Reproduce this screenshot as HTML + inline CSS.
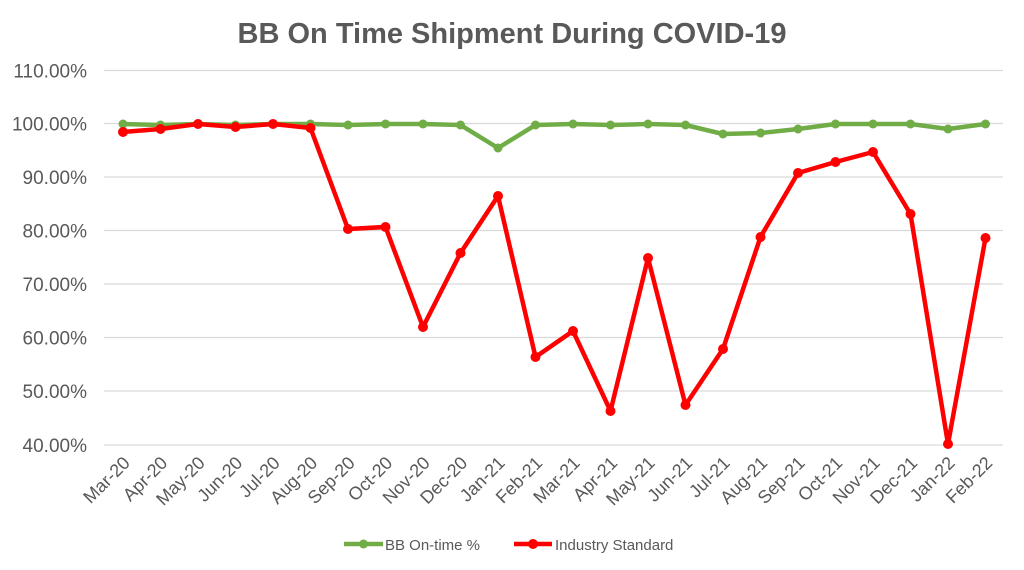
<!DOCTYPE html>
<html><head><meta charset="utf-8"><style>
body{margin:0;background:#fff;}
svg{display:block;font-family:"Liberation Sans",Arial,sans-serif;}
</style></head><body>
<svg width="1024" height="570" viewBox="0 0 1024 570" xmlns="http://www.w3.org/2000/svg">
<rect width="1024" height="570" fill="#fff"/>
<text x="512" y="43" text-anchor="middle" font-size="29" font-weight="bold" fill="#595959">BB On Time Shipment During COVID-19</text>
<g stroke="#d9d9d9" stroke-width="1.3">
<line x1="104" x2="1003" y1="70.5" y2="70.5"/>
<line x1="104" x2="1003" y1="123.5" y2="123.5"/>
<line x1="104" x2="1003" y1="177" y2="177"/>
<line x1="104" x2="1003" y1="230.5" y2="230.5"/>
<line x1="104" x2="1003" y1="284" y2="284"/>
<line x1="104" x2="1003" y1="337.5" y2="337.5"/>
<line x1="104" x2="1003" y1="391" y2="391"/>
<line x1="104" x2="1003" y1="445" y2="445"/>
</g>
<g font-size="19" fill="#595959" text-anchor="end">
<text x="87" y="77.5">110.00%</text>
<text x="87" y="130.5">100.00%</text>
<text x="87" y="184">90.00%</text>
<text x="87" y="237.5">80.00%</text>
<text x="87" y="291">70.00%</text>
<text x="87" y="344.5">60.00%</text>
<text x="87" y="398">50.00%</text>
<text x="87" y="452">40.00%</text>
</g>
<g font-size="18" fill="#595959" text-anchor="end">
<text transform="translate(131,464) rotate(-45)">Mar-20</text>
<text transform="translate(168.5,464) rotate(-45)">Apr-20</text>
<text transform="translate(206,464) rotate(-45)">May-20</text>
<text transform="translate(243.5,464) rotate(-45)">Jun-20</text>
<text transform="translate(281,464) rotate(-45)">Jul-20</text>
<text transform="translate(318.5,464) rotate(-45)">Aug-20</text>
<text transform="translate(356,464) rotate(-45)">Sep-20</text>
<text transform="translate(393.5,464) rotate(-45)">Oct-20</text>
<text transform="translate(431,464) rotate(-45)">Nov-20</text>
<text transform="translate(468.5,464) rotate(-45)">Dec-20</text>
<text transform="translate(506,464) rotate(-45)">Jan-21</text>
<text transform="translate(543.5,464) rotate(-45)">Feb-21</text>
<text transform="translate(581,464) rotate(-45)">Mar-21</text>
<text transform="translate(618.5,464) rotate(-45)">Apr-21</text>
<text transform="translate(656,464) rotate(-45)">May-21</text>
<text transform="translate(693.5,464) rotate(-45)">Jun-21</text>
<text transform="translate(731,464) rotate(-45)">Jul-21</text>
<text transform="translate(768.5,464) rotate(-45)">Aug-21</text>
<text transform="translate(806,464) rotate(-45)">Sep-21</text>
<text transform="translate(843.5,464) rotate(-45)">Oct-21</text>
<text transform="translate(881,464) rotate(-45)">Nov-21</text>
<text transform="translate(918.5,464) rotate(-45)">Dec-21</text>
<text transform="translate(956,464) rotate(-45)">Jan-22</text>
<text transform="translate(993.5,464) rotate(-45)">Feb-22</text>
</g>
<polyline fill="none" stroke="#70ad47" stroke-width="4.5" stroke-linejoin="round" points="123,124 160.5,125 198,124 235.5,125 273,124 310.5,124 348,125 385.5,124 423,124 460.5,125 498,148 535.5,125 573,124 610.5,125 648,124 685.5,125 723,134 760.5,133 798,129 835.5,124 873,124 910.5,124 948,129 985.5,124"/>
<g fill="#70ad47">
<circle cx="123" cy="124" r="4.5"/><circle cx="160.5" cy="125" r="4.5"/><circle cx="198" cy="124" r="4.5"/><circle cx="235.5" cy="125" r="4.5"/><circle cx="273" cy="124" r="4.5"/><circle cx="310.5" cy="124" r="4.5"/><circle cx="348" cy="125" r="4.5"/><circle cx="385.5" cy="124" r="4.5"/><circle cx="423" cy="124" r="4.5"/><circle cx="460.5" cy="125" r="4.5"/><circle cx="498" cy="148" r="4.5"/><circle cx="535.5" cy="125" r="4.5"/><circle cx="573" cy="124" r="4.5"/><circle cx="610.5" cy="125" r="4.5"/><circle cx="648" cy="124" r="4.5"/><circle cx="685.5" cy="125" r="4.5"/><circle cx="723" cy="134" r="4.5"/><circle cx="760.5" cy="133" r="4.5"/><circle cx="798" cy="129" r="4.5"/><circle cx="835.5" cy="124" r="4.5"/><circle cx="873" cy="124" r="4.5"/><circle cx="910.5" cy="124" r="4.5"/><circle cx="948" cy="129" r="4.5"/><circle cx="985.5" cy="124" r="4.5"/>
</g>
<polyline fill="none" stroke="#ff0000" stroke-width="4.5" stroke-linejoin="round" points="123,132 160.5,129 198,124 235.5,127 273,124 310.5,128 348,229 385.5,227 423,327 460.5,253 498,196 535.5,357 573,331 610.5,411 648,258 685.5,405 723,349 760.5,237 798,173 835.5,162 873,152 910.5,214 948,444 985.5,238"/>
<g fill="#ff0000">
<circle cx="123" cy="132" r="5"/><circle cx="160.5" cy="129" r="5"/><circle cx="198" cy="124" r="5"/><circle cx="235.5" cy="127" r="5"/><circle cx="273" cy="124" r="5"/><circle cx="310.5" cy="128" r="5"/><circle cx="348" cy="229" r="5"/><circle cx="385.5" cy="227" r="5"/><circle cx="423" cy="327" r="5"/><circle cx="460.5" cy="253" r="5"/><circle cx="498" cy="196" r="5"/><circle cx="535.5" cy="357" r="5"/><circle cx="573" cy="331" r="5"/><circle cx="610.5" cy="411" r="5"/><circle cx="648" cy="258" r="5"/><circle cx="685.5" cy="405" r="5"/><circle cx="723" cy="349" r="5"/><circle cx="760.5" cy="237" r="5"/><circle cx="798" cy="173" r="5"/><circle cx="835.5" cy="162" r="5"/><circle cx="873" cy="152" r="5"/><circle cx="910.5" cy="214" r="5"/><circle cx="948" cy="444" r="5"/><circle cx="985.5" cy="238" r="5"/>
</g>
<line x1="344" x2="383" y1="544" y2="544" stroke="#70ad47" stroke-width="4.5"/>
<circle cx="363.5" cy="544" r="4.5" fill="#70ad47"/>
<text x="385" y="550" font-size="15" fill="#595959">BB On-time %</text>
<line x1="514" x2="552" y1="544" y2="544" stroke="#ff0000" stroke-width="4.5"/>
<circle cx="533" cy="544" r="5" fill="#ff0000"/>
<text x="555" y="550" font-size="15" fill="#595959">Industry Standard</text>
</svg>
</body></html>
